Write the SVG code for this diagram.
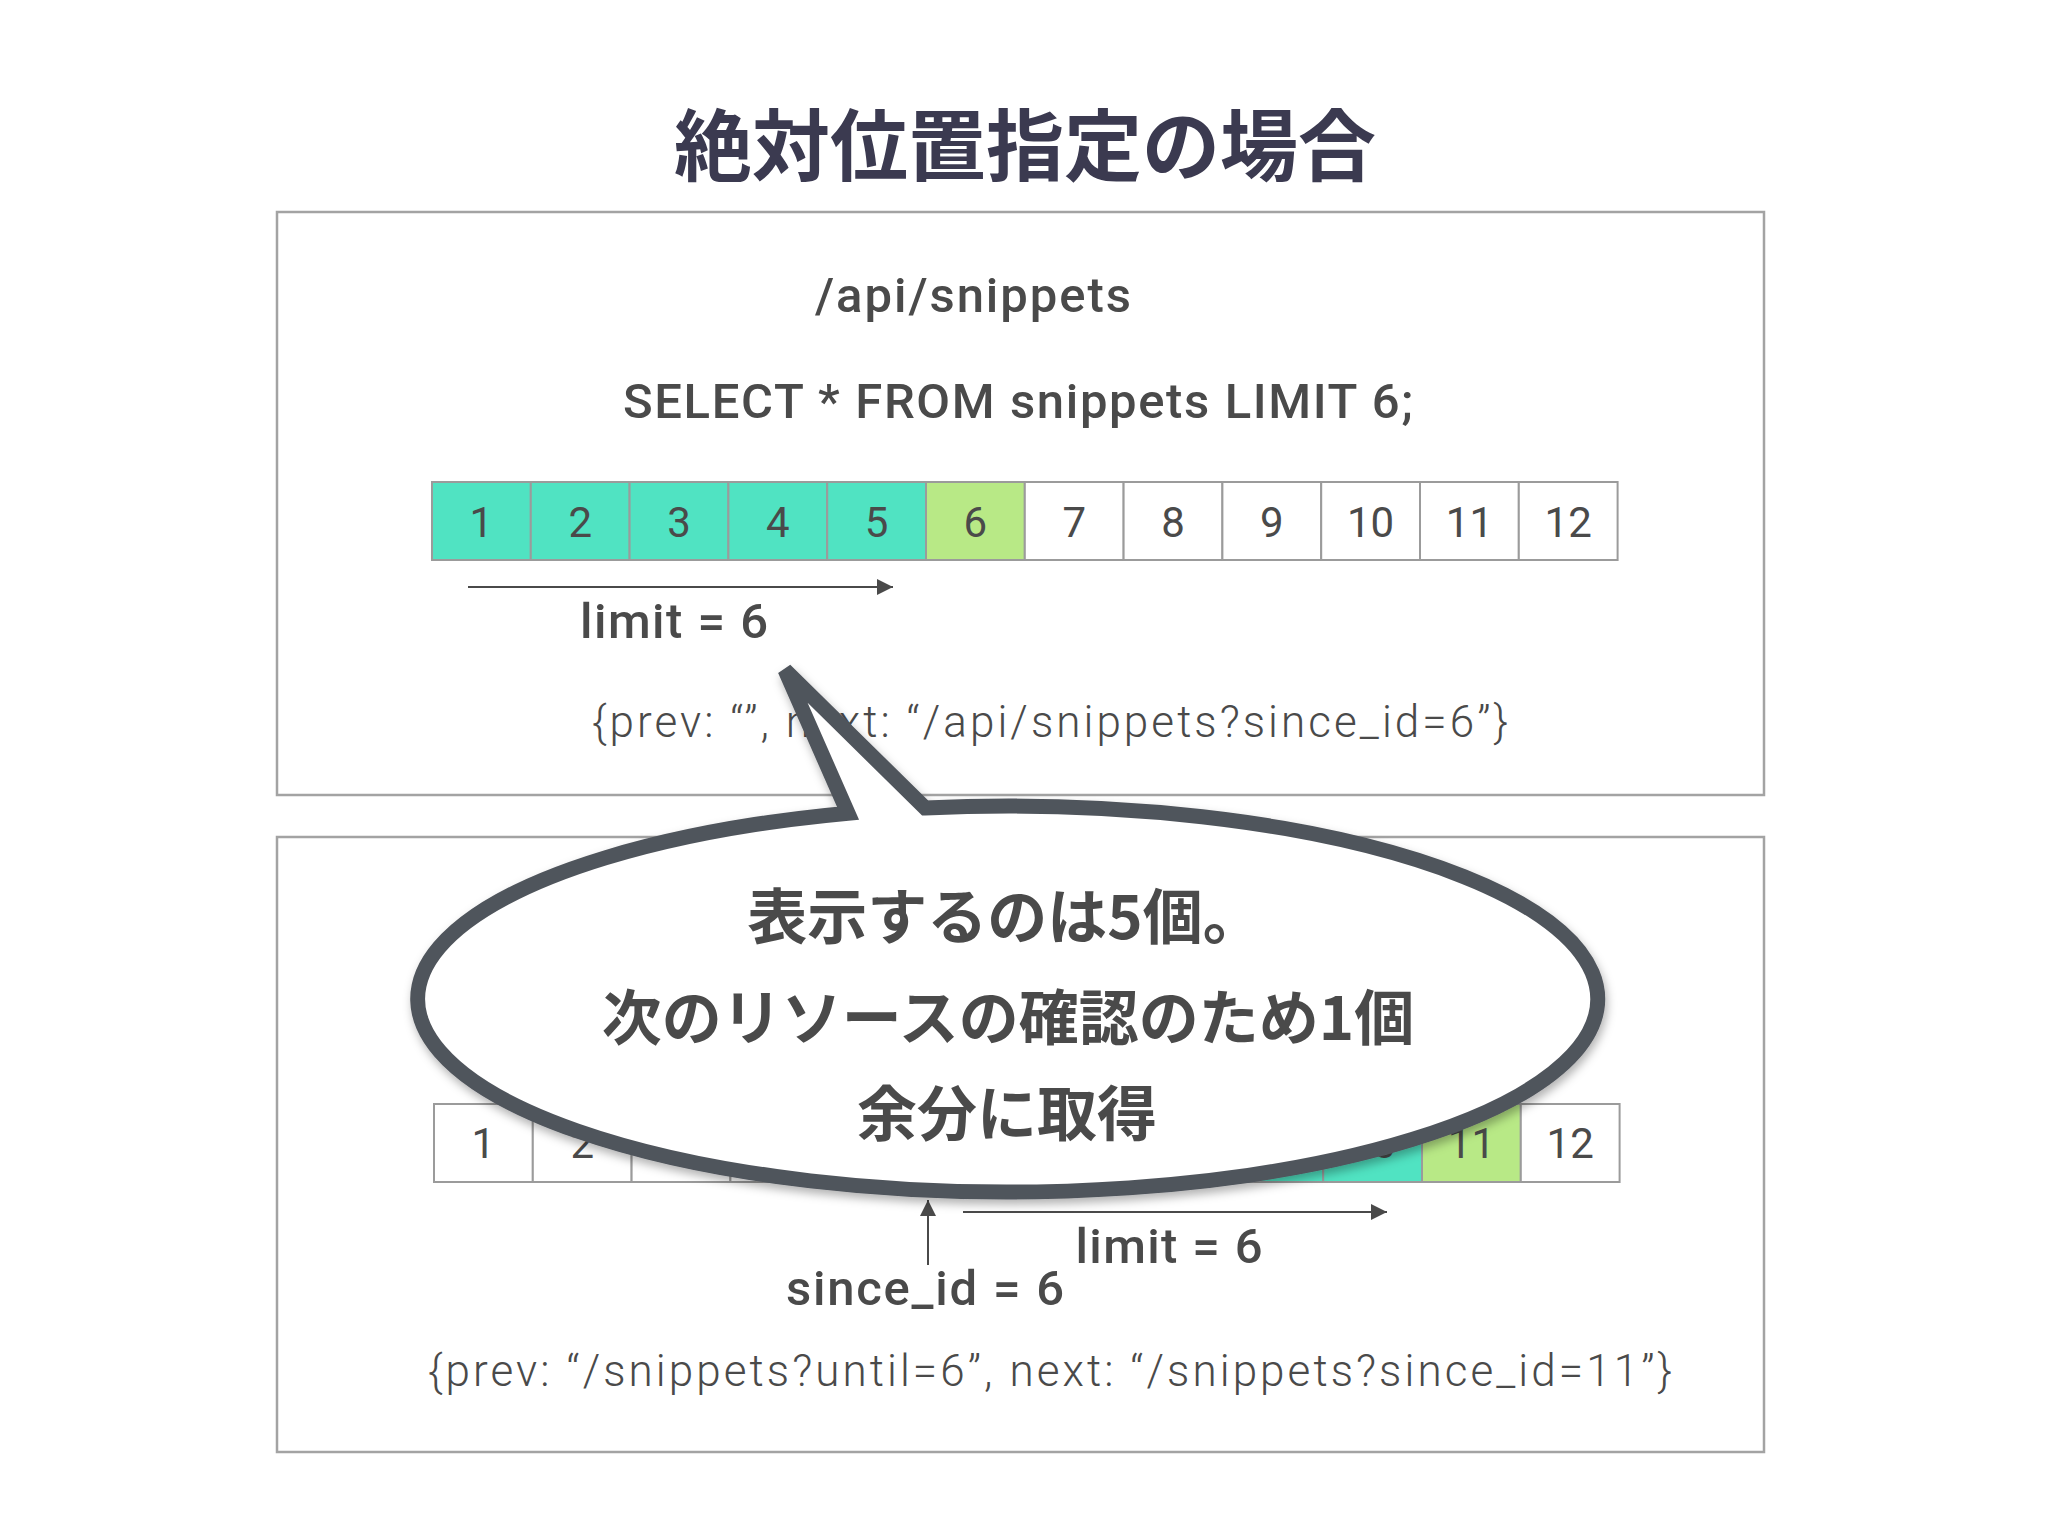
<svg xmlns="http://www.w3.org/2000/svg" width="2048" height="1536" viewBox="0 0 2048 1536">
<defs>
<style>
.box{fill:#fff;stroke:#a3a3a3;stroke-width:2.5}
.cell{stroke:#9b9b9b;stroke-width:2}
.w{fill:#fff}
.t{fill:#50e3c2}
.g{fill:#b8e986}
.num{font-family:Roboto,"Liberation Sans",sans-serif;font-size:42px;fill:#4a4a4a;text-anchor:middle}
.med{font-family:Roboto,"Liberation Sans",sans-serif;font-weight:500;font-size:49px;fill:#4a4a4a;text-anchor:middle}
.light{font-family:Roboto,"Liberation Sans",sans-serif;font-weight:300;font-size:44px;fill:#4a4a4a;text-anchor:middle}
.title{font-family:"Noto Sans CJK JP",sans-serif;font-weight:700;font-size:78px;fill:#3b3a50;text-anchor:middle}
.bub{font-family:"Noto Sans CJK JP",sans-serif;font-weight:700;font-size:60px;fill:#4a4a4a;text-anchor:middle}
.arr{stroke:#4a4a4a;stroke-width:2;fill:none}
</style>
<marker id="ah" markerUnits="userSpaceOnUse" markerWidth="18" markerHeight="16" refX="16" refY="8" orient="auto">
<path d="M0,0 L16,8 L0,16 Z" fill="#4a4a4a"/>
</marker>
<filter id="sh" x="-10%" y="-20%" width="120%" height="140%">
<feDropShadow dx="2" dy="5" stdDeviation="5" flood-color="#000" flood-opacity="0.3"/>
</filter>
</defs>
<rect width="2048" height="1536" fill="#fff"/>
<text class="title" x="1025" y="175">絶対位置指定の場合</text>

<g id="top-panel">
<rect class="box" x="277" y="212" width="1487" height="583"/>
<text class="med" x="973" y="312" textLength="316" lengthAdjust="spacing">/api/snippets</text>
<text class="med" x="1018" y="418" textLength="790" lengthAdjust="spacing">SELECT * FROM snippets LIMIT 6;</text>
</g>
<g id="top-cells">
<rect class="cell t" x="432" y="482" width="98.8" height="78"/>
<rect class="cell t" x="530.8" y="482" width="98.8" height="78"/>
<rect class="cell t" x="629.6" y="482" width="98.8" height="78"/>
<rect class="cell t" x="728.4" y="482" width="98.8" height="78"/>
<rect class="cell t" x="827.2" y="482" width="98.8" height="78"/>
<rect class="cell g" x="926" y="482" width="98.8" height="78"/>
<rect class="cell w" x="1024.8" y="482" width="98.8" height="78"/>
<rect class="cell w" x="1123.6" y="482" width="98.8" height="78"/>
<rect class="cell w" x="1222.4" y="482" width="98.8" height="78"/>
<rect class="cell w" x="1321.2" y="482" width="98.8" height="78"/>
<rect class="cell w" x="1420" y="482" width="98.8" height="78"/>
<rect class="cell w" x="1518.8" y="482" width="98.8" height="78"/>
<text class="num" x="481.4" y="537">1</text>
<text class="num" x="580.2" y="537">2</text>
<text class="num" x="679" y="537">3</text>
<text class="num" x="777.8" y="537">4</text>
<text class="num" x="876.6" y="537">5</text>
<text class="num" x="975.4" y="537">6</text>
<text class="num" x="1074.2" y="537">7</text>
<text class="num" x="1173" y="537">8</text>
<text class="num" x="1271.8" y="537">9</text>
<text class="num" x="1370.6" y="537">10</text>
<text class="num" x="1469.4" y="537">11</text>
<text class="num" x="1568.2" y="537">12</text>
</g>
<text class="med" x="674" y="638" textLength="188" lengthAdjust="spacing">limit = 6</text>
<text class="light" x="1050" y="737" textLength="916" lengthAdjust="spacing">{prev: “”, next: “/api/snippets?since_id=6”}</text>

<g id="bottom-panel">
<rect class="box" x="277" y="837" width="1487" height="615"/>
</g>
<g id="bottom-cells">
<rect class="cell w" x="434" y="1104" width="98.8" height="78"/>
<rect class="cell w" x="532.8" y="1104" width="98.8" height="78"/>
<rect class="cell w" x="631.6" y="1104" width="98.8" height="78"/>
<rect class="cell w" x="730.4" y="1104" width="98.8" height="78"/>
<rect class="cell w" x="829.2" y="1104" width="98.8" height="78"/>
<rect class="cell t" x="928" y="1104" width="98.8" height="78"/>
<rect class="cell t" x="1026.8" y="1104" width="98.8" height="78"/>
<rect class="cell t" x="1125.6" y="1104" width="98.8" height="78"/>
<rect class="cell t" x="1224.4" y="1104" width="98.8" height="78"/>
<rect class="cell t" x="1323.2" y="1104" width="98.8" height="78"/>
<rect class="cell g" x="1422" y="1104" width="98.8" height="78"/>
<rect class="cell w" x="1520.8" y="1104" width="98.8" height="78"/>
<text class="num" x="483.4" y="1158">1</text>
<text class="num" x="582.2" y="1158">2</text>
<text class="num" x="1372.6" y="1158">10</text>
<text class="num" x="1471.4" y="1158">11</text>
<text class="num" x="1570.2" y="1158">12</text>
</g>
<text class="med" x="1169" y="1263" textLength="187" lengthAdjust="spacing">limit = 6</text>
<text class="med" x="925" y="1305" textLength="278" lengthAdjust="spacing">since_id = 6</text>
<text class="light" x="1050" y="1386" textLength="1244" lengthAdjust="spacing">{prev: “/snippets?until=6”, next: “/snippets?since_id=11”}</text>

<g id="connectors">
<line class="arr" x1="468" y1="587" x2="893" y2="587" marker-end="url(#ah)"/>
<line class="arr" x1="928" y1="1265" x2="928" y2="1200" marker-end="url(#ah)"/>
<line class="arr" x1="963" y1="1212" x2="1387" y2="1212" marker-end="url(#ah)"/>
</g>

<g id="bubble">
<path d="M848,813.2 A590,193 0 1 0 925,807.9 L785,670 Z" fill="#fff" stroke="#50555c" stroke-width="15" filter="url(#sh)"/>
<text class="bub" x="1005" y="939">表示するのは5個。</text>
<text class="bub" x="1008" y="1040">次のリソースの確認のため1個</text>
<text class="bub" x="1007" y="1136">余分に取得</text>
</g>
</svg>
